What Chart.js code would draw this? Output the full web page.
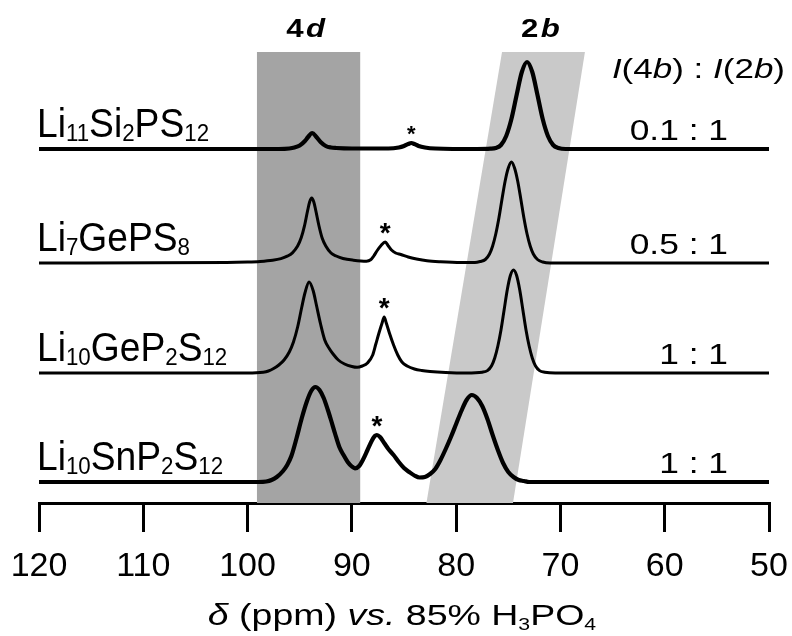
<!DOCTYPE html>
<html>
<head>
<meta charset="utf-8">
<script src="https://cdn.jsdelivr.net/npm/chart.js@4.4.1/dist/chart.umd.min.js"></script>
<style>
    html, body { margin: 0; padding: 0; background: #fff; }
    #wrap { width: 792px; height: 636px; position: relative; }
</style>
</head>
<body>
<div id="wrap"><canvas id="nmr"></canvas></div>
<script>
// --- DATA ---
// chemical shift (ppm) and intensity (a.u.) of each trace
const ppmSi = [120, 100, 97, 96, 95.5, 95, 94.5, 94.2, 93.8, 93.4, 93, 92.5, 92, 91.5, 90,
    86.5, 85.5, 85, 84.6, 84.3, 84, 83.6, 83, 82,
    78, 76.7, 76.2, 75.7, 75.2, 74.7, 74.2, 73.7, 73.2, 72.7, 72.2, 71.7, 71.2, 70.7, 70.2, 69.5, 60, 50];
const intSi = [0, 0, 0, 0.5, 1.5, 3.5, 8, 12, 16, 12, 7, 3, 1.5, 1, 0.5,
    0.5, 1.5, 3, 5, 6, 5, 3, 1.5, 0.5,
    0, 0.3, 1, 4, 13, 30, 54, 77, 87, 77, 54, 30, 13, 4, 1, 0, 0, 0];

const ppmGe7 = [120, 102, 100, 98.8, 97.6, 96.8, 96.2, 95.7, 95.2, 94.85,
    94.55, 94.25, 94.05, 93.85, 93.65, 93.45, 93.15, 92.85, 92.5, 92,
    91.5, 90.85, 89.85, 88.6, 88.2, 87.9, 87.6, 87.2, 86.8, 86.5,
    86.2, 85.8, 85.3, 84.6, 83.8, 82.8, 81.5, 79.5, 78.2, 77.7,
    77.2, 76.8, 76.5, 76.2, 75.9, 75.6, 75.3, 75, 74.7, 74.4,
    74.1, 73.8, 73.5, 73.2, 72.9, 72.6, 72.2, 71.7, 71, 60, 50];
const intGe7 = [0, 0.5, 1, 1.6, 2.8, 4.4, 6.8, 10.2, 16.9, 25.4,
    36.8, 52, 61, 65, 61, 52, 37, 25, 17, 10,
    7, 4.5, 2.8, 1.8, 3.2, 7, 12, 17.5, 21, 17,
    13, 10, 8.5, 6, 4, 2.2, 1.2, 0.5, 0.5, 1.5,
    3.5, 9, 17, 29, 45, 64, 82, 95, 101, 95,
    82, 64, 45, 29, 17, 9, 3.5, 1, 0, 0, 0];

const ppmGe10 = [120, 100, 98.5, 98, 97.5, 97, 96.5, 96, 95.6, 95.2,
    94.8, 94.5, 94.1, 93.7, 93.4, 93, 92.6, 92.2, 91.8, 91.3,
    90.7, 90, 89.5, 89, 88.5, 88, 87.7, 87.4, 87.1, 86.9,
    86.7, 86.4, 86, 85.6, 85.2, 84.7, 84, 83.3, 82.5, 81,
    79, 77.5, 77, 76.6, 76.3, 76, 75.7, 75.4, 75.1, 74.8,
    74.5, 74.2, 73.9, 73.6, 73.3, 73, 72.7, 72.4, 72, 71.5, 70.5, 60, 50];
const intGe10 = [0, 0, 0.8, 2, 4.5, 8, 13, 21, 31, 46,
    66, 80, 91, 82, 68, 49, 33, 25, 19, 13,
    9, 6.5, 5.7, 7, 10, 18, 29, 40, 50, 56,
    50, 40, 28, 18, 11, 7, 4, 2.5, 1.5, 0.5,
    0, 0.8, 2.4, 7.3, 15, 27, 43, 63, 83, 97.5,
    103, 97.5, 83, 63, 43, 27, 15, 7.3, 2.4, 0.8, 0, 0, 0];

const ppmSn = [120, 99, 98.2, 97.7, 97.2, 96.6, 96.2, 95.8, 95.3, 94.8,
    94.3, 93.9, 93.5, 93.1, 92.7, 92.3, 92, 91.6, 91.2, 90.8,
    90.4, 90, 89.7, 89.3, 88.9, 88.5, 88.1, 87.8, 87.6, 87.3,
    86.9, 86.5, 86, 85.5, 85, 84.5, 84, 83.5, 83, 82.5,
    82, 81.5, 81, 80.5, 80, 79.5, 79, 78.5, 78, 77.5,
    77, 76.5, 76, 75.5, 75, 74.5, 74, 73.5, 73, 60, 50];
const intSn = [0, 0, 0.5, 2, 5, 11, 17, 26, 44, 64,
    81, 91, 95, 92, 84, 72, 62, 48, 35, 27,
    20, 15.5, 13.7, 16, 23, 32, 41, 46, 47, 45,
    39, 33, 27, 20, 14, 10, 6.5, 4.5, 5, 8,
    13, 22, 33, 45, 58, 71, 82, 87, 84, 76,
    63, 47, 32, 19, 10, 5, 2, 1, 0, 0, 0];

// stacking offsets (top to bottom) and labels
const traceNames = ['Li_{11}Si_{2}PS_{12}', 'Li_{7}GePS_{8}', 'Li_{10}GeP_{2}S_{12}', 'Li_{10}SnP_{2}S_{12}'];
const tracePpm = [ppmSi, ppmGe7, ppmGe10, ppmSn];
const traceInt = [intSi, intGe7, intGe10, intSn];
const traceOffsets = [354, 240, 130, 21];
const traceNoisy = [true, false, false, true];
const ratioLabels = ['0.1 : 1', '0.5 : 1', '1 : 1', '1 : 1'];
const ratioHeader = '*I*(4*b*) : *I*(2*b*)';
const starPpm = [84.3, 86.8, 86.9, 87.6];

// shaded site regions: [left, right] in ppm at the top and at the bottom
const siteNames = ['4*d*', '2*b*'];
const siteTop = [[99.1, 89.2], [75.6, 67.65]];
const siteBottom = [[99.1, 89.2], [82.85, 74.55]];
const siteColors = ['#a4a4a4', '#c9c9c9'];

const xTicks = [120, 110, 100, 90, 80, 70, 60, 50];
const xTitle = '*δ* (ppm) *vs.* 85% H_{3}PO_{4}';

// --- TEXT HELPERS ---
const FONT = '"Liberation Sans", Arial, Helvetica, sans-serif';

const parseRich = (s) => {
    const runs = [];
    const re = /_\{([^}]*)\}|\*([^*]+)\*|([^_*]+)/g;
    let m;
    while ((m = re.exec(s))) {
        if (m[1] !== undefined) runs.push({ t: m[1], sub: true });
        else if (m[2] !== undefined) runs.push({ t: m[2], it: true });
        else runs.push({ t: m[3] });
    }
    return runs;
};

// draws mixed italic / subscript text; sx stretches it horizontally, gap adds space between runs
const drawRich = (ctx, s, x, y, o) => {
    const { size, sub = size * 0.6, drop = 4, align = 'left', weight = 'normal', sx = 1, gap = 0 } = o;
    const runs = parseRich(s);
    const fontOf = r => `${r.it ? 'italic ' : ''}${weight} ${r.sub ? sub : size}px ${FONT}`;
    let total = 0;
    runs.forEach((r, i) => {
        ctx.font = fontOf(r);
        r.w = ctx.measureText(r.t).width + (i < runs.length - 1 ? gap : 0);
        total += r.w;
    });
    const start = align === 'right' ? x - total * sx : align === 'center' ? x - total * sx / 2 : x;
    ctx.save();
    ctx.translate(start, y);
    ctx.scale(sx, 1);
    ctx.fillStyle = '#000';
    ctx.textAlign = 'left';
    ctx.textBaseline = 'alphabetic';
    let cx = 0;
    runs.forEach(r => {
        ctx.font = fontOf(r);
        ctx.fillText(r.t, cx, r.sub ? drop : 0);
        cx += r.w;
    });
    ctx.restore();
};

// --- PLUGINS ---
const siteBands = {
    id: 'siteBands',
    beforeDatasetsDraw(chart) {
        const { ctx, chartArea, scales: { x } } = chart;
        ctx.save();
        siteTop.forEach((top, i) => {
            const bot = siteBottom[i];
            ctx.fillStyle = siteColors[i];
            ctx.beginPath();
            ctx.moveTo(x.getPixelForValue(top[0]), chartArea.top);
            ctx.lineTo(x.getPixelForValue(top[1]), chartArea.top);
            ctx.lineTo(x.getPixelForValue(bot[1]), chartArea.bottom);
            ctx.lineTo(x.getPixelForValue(bot[0]), chartArea.bottom);
            ctx.closePath();
            ctx.fill();
        });
        ctx.restore();
    }
};

const annotations = {
    id: 'annotations',
    afterDatasetsDraw(chart) {
        const { ctx, chartArea, scales: { x, y } } = chart;

        // site names above the bands
        siteNames.forEach((n, i) => {
            const cx = x.getPixelForValue((siteTop[i][0] + siteTop[i][1]) / 2);
            drawRich(ctx, n, cx - 3, chartArea.top - 15, { size: 26, weight: 'bold', align: 'center', sx: 1.2, gap: 2 });
        });

        // intensity ratio header
        drawRich(ctx, ratioHeader, chartArea.right + 16, 78, { size: 28, align: 'right', sx: 1.25 });

        traceOffsets.forEach((off, i) => {
            const base = y.getPixelForValue(off);
            drawRich(ctx, traceNames[i], chartArea.left - 2, base - 12, { size: 40, sub: 24, drop: 4, sx: 0.93 });
            drawRich(ctx, ratioLabels[i], chartArea.right - 41, base - 9, { size: 29, align: 'right', sx: 1.22 });

            // spinning sideband marker
            const k = tracePpm[i].indexOf(starPpm[i]);
            const apex = y.getPixelForValue(off + traceInt[i][k]);
            ctx.save();
            ctx.fillStyle = '#000';
            ctx.textAlign = 'center';
            ctx.textBaseline = 'alphabetic';
            ctx.font = `bold ${i === 0 ? 22 : 28}px ${FONT}`;
            ctx.fillText('*', x.getPixelForValue(starPpm[i]), apex - (i === 0 ? 2 : 0));
            ctx.restore();
        });

        // axis title
        drawRich(ctx, xTitle, (chartArea.left + chartArea.right) / 2 - 2, 625, { size: 30, sub: 17, drop: 5, align: 'center', sx: 1.25 });
    }
};

// --- CHART ---
const datasets = traceNames.map((name, i) => ({
    label: name,
    data: tracePpm[i].map((p, j) => ({ x: p, y: traceOffsets[i] + traceInt[i][j] })),
    borderColor: '#000',
    borderWidth: traceNoisy[i] ? 4.2 : 3,
    pointRadius: 0,
    fill: false,
    cubicInterpolationMode: 'monotone'
}));

new Chart(document.getElementById('nmr'), {
    type: 'line',
    data: { datasets },
    options: {
        responsive: true,
        maintainAspectRatio: false,
        devicePixelRatio: 1,
        animation: false,
        layout: { padding: { left: 39, right: 23, top: 52, bottom: 0 } },
        plugins: { legend: { display: false }, tooltip: { enabled: false } },
        scales: {
            x: {
                type: 'linear',
                reverse: true,
                min: 50,
                max: 120,
                afterBuildTicks: (s) => { s.ticks = xTicks.map(v => ({ value: v })); },
                afterFit: (s) => {
                    s.height = 133;
                    s.paddingLeft = 0;
                    s.paddingRight = 0;
                },
                ticks: {
                    color: '#000',
                    font: { family: FONT, size: 34 },
                    padding: 14,
                    maxRotation: 0,
                    autoSkip: false
                },
                grid: {
                    drawOnChartArea: false,
                    drawTicks: true,
                    tickLength: 29,
                    tickWidth: 3,
                    tickColor: '#000',
                    color: '#000',
                    lineWidth: 3
                },
                border: { display: true, color: '#000', width: 3 }
            },
            y: { display: false, min: 0, max: 451 }
        }
    },
    plugins: [siteBands, annotations]
});
</script>
</body>
</html>
